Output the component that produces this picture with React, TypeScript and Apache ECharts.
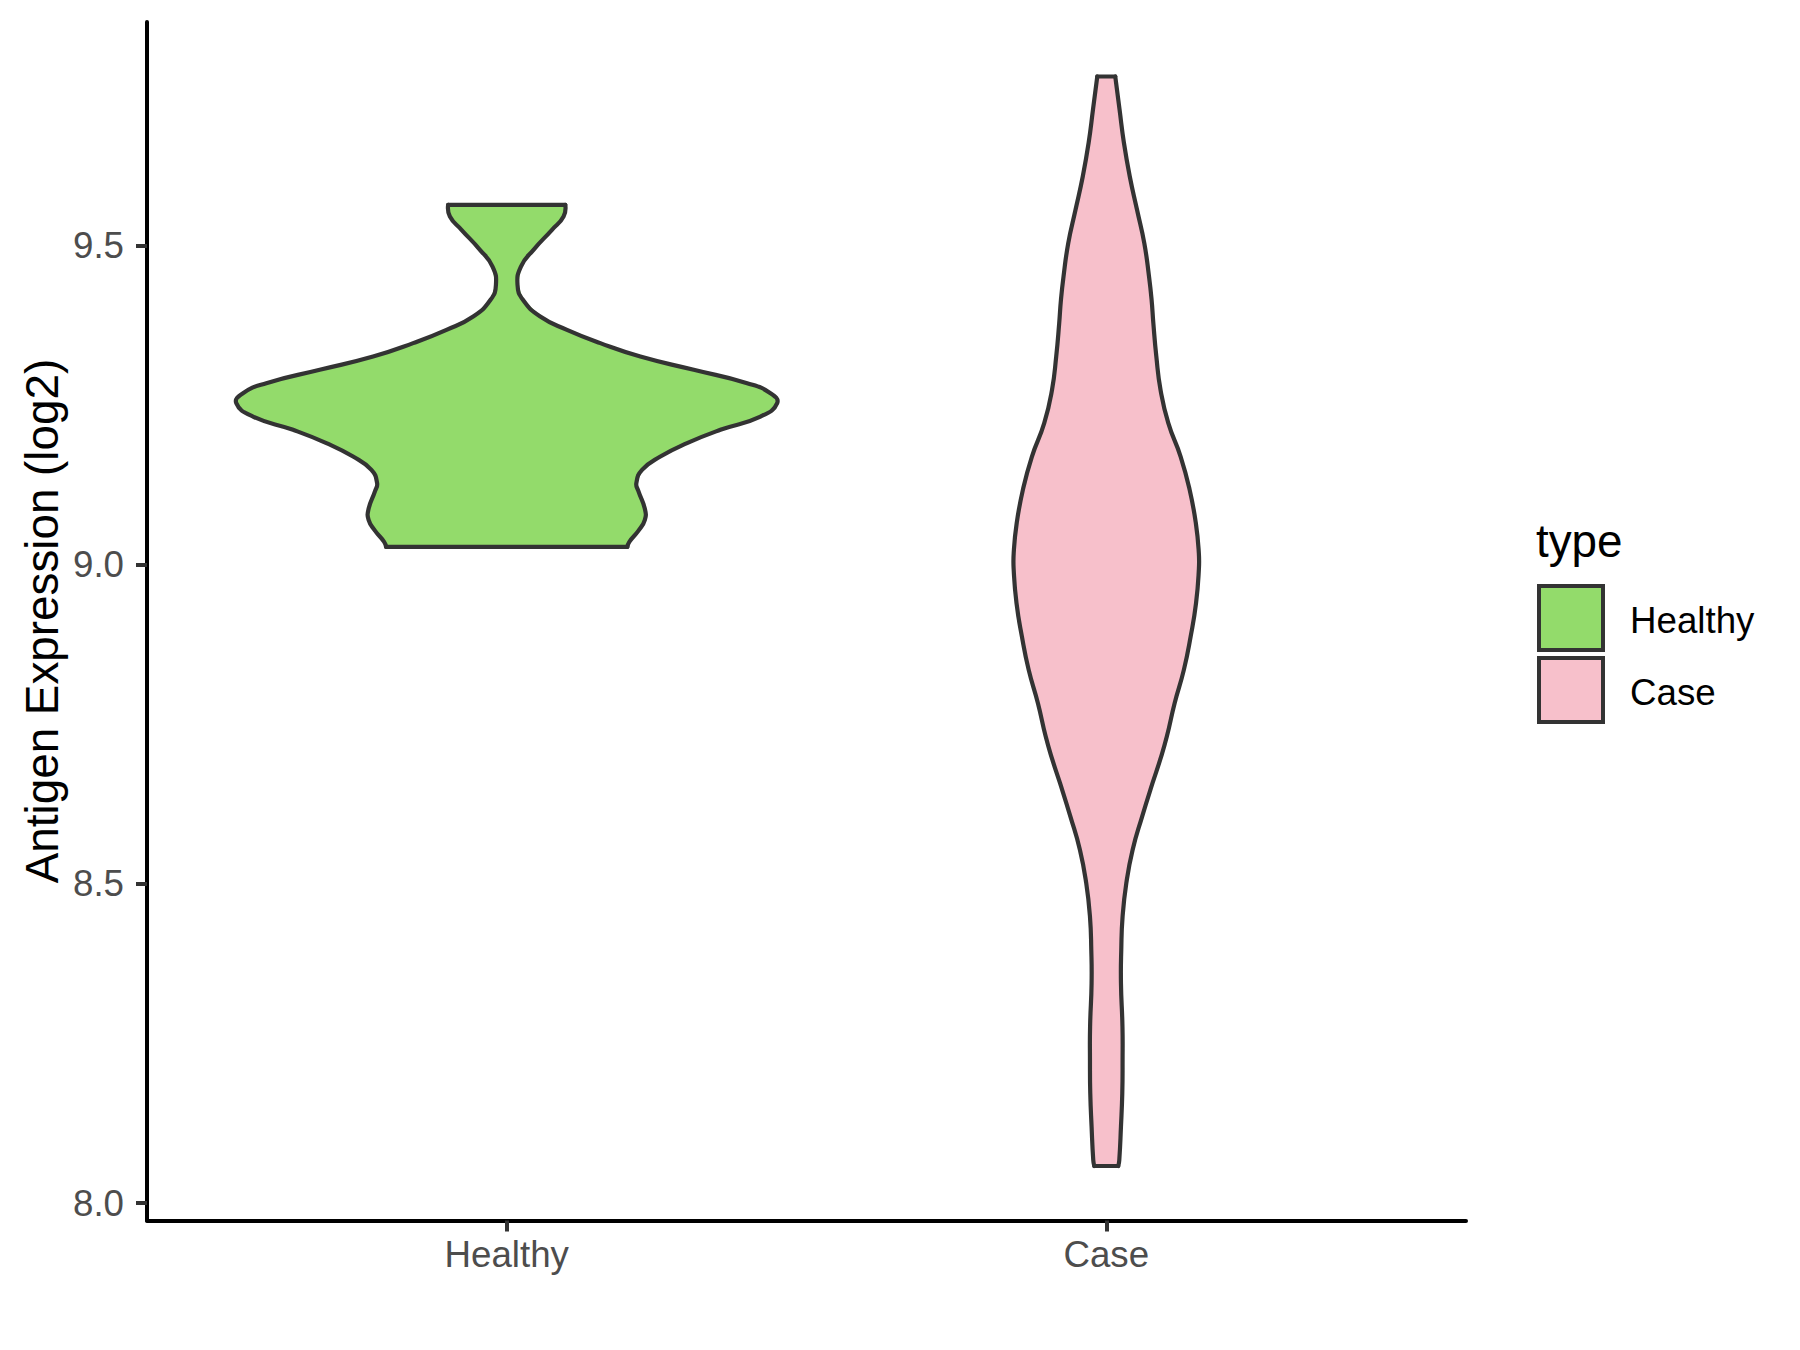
import React, { useEffect, useRef } from 'react';
import * as echarts from 'echarts';

const categories = ['Healthy', 'Case'];
const yTicks = [8.0, 8.5, 9.0, 9.5];
const fills = ['#93DB6B', '#F7C0CB'];

// Violin outlines: value (log2) and half-width (in category units)
const healthyY = [9.5634, 9.5451, 9.5243, 9.4930, 9.4668, 9.4381, 9.4146, 9.3885, 9.3676, 9.3468, 9.3258, 9.3050, 9.2841, 9.2685, 9.2528, 9.2318, 9.2110, 9.1902, 9.1692, 9.1483, 9.1275, 9.1154, 9.0873, 9.0700, 9.0528, 9.0356, 9.0277];
const healthyHalfWidth = [0.0977, 0.0948, 0.0755, 0.0447, 0.0237, 0.0180, 0.0270, 0.0559, 0.1005, 0.1561, 0.2229, 0.3119, 0.4010, 0.4399, 0.4511, 0.4232, 0.3564, 0.3008, 0.2563, 0.2257, 0.2162, 0.2195, 0.2304, 0.2304, 0.2195, 0.2045, 0.2012];

const caseY = [9.7644, 9.7122, 9.6601, 9.6078, 9.5556, 9.5034, 9.4511, 9.4146, 9.3781, 9.3258, 9.2737, 9.2215, 9.1692, 9.1170, 9.0649, 9.0179, 8.9917, 8.9395, 8.8872, 8.8351, 8.7829, 8.7306, 8.6941, 8.6576, 8.6053, 8.5531, 8.5009, 8.4486, 8.3965, 8.3443, 8.2763, 8.2241, 8.1720, 8.1197, 8.0675, 8.0581];
const caseHalfWidth = [0.0150, 0.0222, 0.0295, 0.0392, 0.0513, 0.0634, 0.0713, 0.0756, 0.0785, 0.0835, 0.0905, 0.1035, 0.1240, 0.1391, 0.1494, 0.1544, 0.1544, 0.1497, 0.1407, 0.1294, 0.1140, 0.1010, 0.0898, 0.0771, 0.0598, 0.0439, 0.0334, 0.0272, 0.0250, 0.0245, 0.0270, 0.0272, 0.0267, 0.0245, 0.0217, 0.0200];

const profiles = [
  { y: healthyY, hw: healthyHalfWidth },
  { y: caseY, hw: caseHalfWidth },
];

const FONT = '"Liberation Sans", Arial, Helvetica, sans-serif';

export default function App() {
  const ref = useRef<HTMLDivElement>(null);
  useEffect(() => {
    const chart = echarts.init(ref.current as HTMLDivElement, null, { renderer: 'svg' });
    const allY = [...healthyY, ...caseY];
    const lo = Math.min(...allY);
    const hi = Math.max(...allY);
    const pad = (hi - lo) * 0.05;
    const outlineStyle = { stroke: '#333333', lineWidth: 4.2, fill: null, lineJoin: 'round', lineCap: 'round' };

    chart.setOption({
      animation: false,
      backgroundColor: '#ffffff',
      grid: { left: 147, top: 22, right: 334, bottom: 129.5, containLabel: false },
      xAxis: {
        type: 'value',
        min: 0.4,
        max: 2.6,
        splitLine: { show: false },
        axisLine: { show: true, onZero: false, lineStyle: { color: '#000000', width: 4 } },
        axisTick: { show: true, customValues: [1, 2], length: 11, lineStyle: { color: '#333333', width: 4 } },
        axisLabel: {
          customValues: [1, 2],
          formatter: (v: number) => categories[Math.round(v) - 1],
          margin: 15,
          fontSize: 36.7,
          color: '#4D4D4D',
          fontFamily: FONT,
        },
      },
      yAxis: {
        type: 'value',
        min: lo - pad,
        max: hi + pad,
        splitLine: { show: false },
        axisLine: { show: true, onZero: false, lineStyle: { color: '#000000', width: 4 } },
        axisTick: { show: true, customValues: yTicks, length: 11, lineStyle: { color: '#333333', width: 4 } },
        axisLabel: {
          customValues: yTicks,
          formatter: (v: number) => v.toFixed(1),
          margin: 23,
          fontSize: 36.7,
          color: '#4D4D4D',
          fontFamily: FONT,
        },
      },
      series: [
        {
          type: 'custom',
          coordinateSystem: 'cartesian2d',
          silent: true,
          data: categories.map((c, i) => [i + 1, profiles[i].y[0]]),
          renderItem: (params: any, api: any) => {
            const i = params.dataIndex;
            const cx = i + 1;
            const p = profiles[i];
            const right = p.y.map((v, k) => api.coord([cx + p.hw[k], v]));
            const left = p.y.map((v, k) => api.coord([cx - p.hw[k], v]));
            const outline = right.concat(left.slice().reverse());
            const n = right.length - 1;
            return {
              type: 'group',
              children: [
                { type: 'polygon', shape: { points: outline }, style: { fill: fills[i], stroke: fills[i], lineWidth: 1 } },
                { type: 'polyline', shape: { points: right, smooth: 0.5 }, style: outlineStyle },
                { type: 'polyline', shape: { points: left, smooth: 0.5 }, style: outlineStyle },
                { type: 'line', shape: { x1: left[0][0], y1: left[0][1], x2: right[0][0], y2: right[0][1] }, style: outlineStyle },
                { type: 'line', shape: { x1: left[n][0], y1: left[n][1], x2: right[n][0], y2: right[n][1] }, style: outlineStyle },
              ],
            };
          },
        },
      ],
      graphic: [
        {
          type: 'text',
          x: 42,
          y: 621,
          rotation: Math.PI / 2,
          style: {
            text: 'Antigen Expression (log2)',
            fontSize: 45.8,
            fontFamily: FONT,
            fill: '#000000',
            align: 'center',
            verticalAlign: 'middle',
            textAlign: 'center',
            textVerticalAlign: 'middle',
          },
        },
        {
          type: 'text',
          x: 1536,
          y: 541,
          style: { text: 'type', fontSize: 45.8, fontFamily: FONT, fill: '#000000', align: 'left', verticalAlign: 'middle' },
        },
        {
          type: 'rect',
          shape: { x: 1539, y: 586, width: 64, height: 64 },
          style: { fill: fills[0], stroke: '#333333', lineWidth: 4 },
        },
        {
          type: 'rect',
          shape: { x: 1539, y: 658, width: 64, height: 64 },
          style: { fill: fills[1], stroke: '#333333', lineWidth: 4 },
        },
        {
          type: 'text',
          x: 1630,
          y: 620,
          style: { text: categories[0], fontSize: 36.7, fontFamily: FONT, fill: '#000000', align: 'left', verticalAlign: 'middle' },
        },
        {
          type: 'text',
          x: 1630,
          y: 692,
          style: { text: categories[1], fontSize: 36.7, fontFamily: FONT, fill: '#000000', align: 'left', verticalAlign: 'middle' },
        },
      ],
    });
    return () => chart.dispose();
  }, []);
  return <div ref={ref} style={{ position: 'fixed', left: 0, top: 0, width: 1800, height: 1350, background: '#fff' }} />;
}
